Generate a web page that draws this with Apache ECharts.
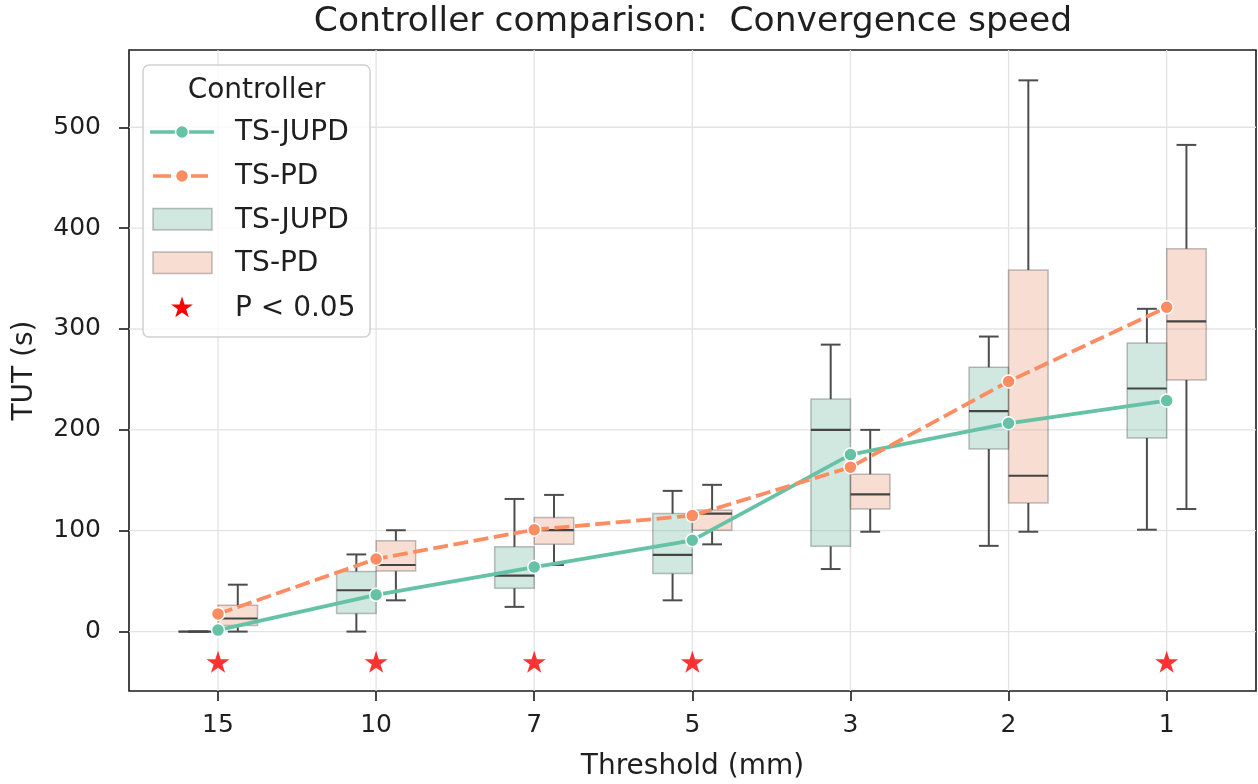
<!DOCTYPE html>
<html>
<head>
<meta charset="utf-8">
<script src="https://cdn.jsdelivr.net/npm/echarts@6/dist/echarts.min.js"></script>
<style>
html,body{margin:0;padding:0;background:#fff;}
#chart{width:1258px;height:784px;}
</style>
</head>
<body>
<div id="chart"></div>
<script>
// ---------------- data ----------------
const categories = ['15', '10', '7', '5', '3', '2', '1'];
// box stats: [lower whisker, Q1, median, Q3, upper whisker]
const jupdBox = [
  [0, 0, 0, 0, 0],
  [0, 18, 41, 59.5, 76.5],
  [24.5, 43, 55.5, 84, 131.5],
  [31, 57.5, 76, 117, 139.5],
  [62, 84.5, 200, 230.5, 284.5],
  [85, 181, 218.5, 262, 292.5],
  [101, 192, 241, 286, 320]
];
const pdBox = [
  [0, 6, 13, 26, 46.5],
  [31, 60, 66, 90, 100.5],
  [66, 86.5, 100.5, 113, 135.5],
  [86.5, 100.5, 117, 120.5, 145.5],
  [99, 121.5, 136, 156, 200],
  [99, 127.5, 154.5, 358.5, 546.5],
  [121.5, 249.5, 307.5, 379.5, 482.5]
];
const jupdMean = [1.5, 36.5, 64, 90.5, 175.5, 206.5, 229];
const pdMean = [17.5, 72, 101, 115, 163, 248, 321.5];
const significant = [1, 1, 1, 1, 0, 0, 1];
const starLevel = -30;
const yTicks = [0, 100, 200, 300, 400, 500];

// ---------------- styles ----------------
const GREEN = '#66c2a5';
const ORANGE = '#fc8d62';
const GREEN_FILL = 'rgba(113,182,161,0.32)';
const ORANGE_FILL = 'rgba(233,149,117,0.32)';
const BOX_EDGE = 'rgba(60,60,60,0.32)';
const WHISK = '#4d4d4d';
const TXT = '#1f1f1f';
const FONT = 'DejaVu Sans';
const BOX_W = 0.25;

function starPoints(cx, cy, R) {
  const r = R * 0.381966;
  const pts = [];
  for (let k = 0; k < 10; k++) {
    const rad = (k % 2 === 0) ? R : r;
    const a = -Math.PI / 2 + k * Math.PI / 5;
    pts.push([cx + rad * Math.cos(a), cy + rad * Math.sin(a)]);
  }
  return pts;
}
const starPath = 'path://' + starPoints(50, 50, 50).map((p, k) => (k ? 'L' : 'M') + p[0].toFixed(2) + ',' + p[1].toFixed(2)).join(' ') + ' Z';

function makeBoxRender(side, fill) {
  return function (params, api) {
    const i = api.value(0);
    const lo = api.value(1), q1 = api.value(2), med = api.value(3), q3 = api.value(4), hi = api.value(5);
    const x0 = side < 0 ? i - BOX_W : i;
    const x1 = x0 + BOX_W;
    const xc = x0 + BOX_W / 2;
    const tl = api.coord([x0, q3]);
    const br = api.coord([x1, q1]);
    const cx = api.coord([xc, med])[0];
    const yMed = api.coord([xc, med])[1];
    const yLo = api.coord([xc, lo])[1];
    const yHi = api.coord([xc, hi])[1];
    const capHalf = api.size([BOX_W / 4, 0])[0];
    const lineStyle = { stroke: WHISK, lineWidth: 2 };
    return {
      type: 'group',
      children: [
        { type: 'rect', shape: { x: tl[0], y: tl[1], width: br[0] - tl[0], height: br[1] - tl[1] },
          style: { fill: fill, stroke: BOX_EDGE, lineWidth: 1.5 } },
        { type: 'line', shape: { x1: cx, y1: br[1], x2: cx, y2: yLo }, style: lineStyle },
        { type: 'line', shape: { x1: cx, y1: tl[1], x2: cx, y2: yHi }, style: lineStyle },
        { type: 'line', shape: { x1: cx - capHalf, y1: yLo, x2: cx + capHalf, y2: yLo }, style: lineStyle },
        { type: 'line', shape: { x1: cx - capHalf, y1: yHi, x2: cx + capHalf, y2: yHi }, style: lineStyle },
        { type: 'line', shape: { x1: tl[0], y1: yMed, x2: br[0], y2: yMed }, style: { stroke: '#444', lineWidth: 2.2 } }
      ]
    };
  };
}

const chart = echarts.init(document.getElementById('chart'), null, { renderer: 'canvas' });

// legend (drawn as graphic)
const LX = 143, LY = 65;
const LFONT = '28px "DejaVu Sans"';
const legendGraphic = [
  { type: 'rect', shape: { x: LX, y: LY, width: 227, height: 272, r: 6 },
    style: { fill: 'rgba(255,255,255,0.8)', stroke: 'rgba(204,204,204,0.9)', lineWidth: 1.5 }, z: 100 },
  { type: 'text', x: 256.5, y: 91, style: { text: 'Controller', font: LFONT, fill: TXT, align: 'center', verticalAlign: 'middle' }, z: 101 },
  { type: 'line', shape: { x1: 150, y1: 132, x2: 214, y2: 132 }, style: { stroke: GREEN, lineWidth: 3.5 }, z: 101 },
  { type: 'circle', shape: { cx: 182, cy: 132, r: 6.5 }, style: { fill: GREEN, stroke: '#fff', lineWidth: 1.5 }, z: 102 },
  { type: 'text', x: 235, y: 133, style: { text: 'TS-JUPD', font: LFONT, fill: TXT, align: 'left', verticalAlign: 'middle' }, z: 101 },
  { type: 'line', shape: { x1: 153, y1: 176, x2: 171, y2: 176 }, style: { stroke: ORANGE, lineWidth: 3.5 }, z: 101 },
  { type: 'line', shape: { x1: 191, y1: 176, x2: 208, y2: 176 }, style: { stroke: ORANGE, lineWidth: 3.5 }, z: 101 },
  { type: 'circle', shape: { cx: 182, cy: 176, r: 6.5 }, style: { fill: ORANGE, stroke: '#fff', lineWidth: 1.5 }, z: 102 },
  { type: 'text', x: 235, y: 177, style: { text: 'TS-PD', font: LFONT, fill: TXT, align: 'left', verticalAlign: 'middle' }, z: 101 },
  { type: 'rect', shape: { x: 153, y: 208.5, width: 59, height: 21.5 }, style: { fill: GREEN_FILL, stroke: BOX_EDGE, lineWidth: 1.5 }, z: 101 },
  { type: 'text', x: 235, y: 220.5, style: { text: 'TS-JUPD', font: LFONT, fill: TXT, align: 'left', verticalAlign: 'middle' }, z: 101 },
  { type: 'rect', shape: { x: 153, y: 252, width: 59, height: 21.5 }, style: { fill: ORANGE_FILL, stroke: BOX_EDGE, lineWidth: 1.5 }, z: 101 },
  { type: 'text', x: 235, y: 264, style: { text: 'TS-PD', font: LFONT, fill: TXT, align: 'left', verticalAlign: 'middle' }, z: 101 },
  { type: 'polygon', shape: { points: starPoints(182, 308, 11.5) }, style: { fill: '#ff0000' }, z: 101 },
  { type: 'text', x: 235, y: 309, style: { text: 'P < 0.05', font: LFONT, fill: TXT, align: 'left', verticalAlign: 'middle' }, z: 101 }
];

const option = {
  animation: false,
  backgroundColor: '#fff',
  textStyle: { fontFamily: FONT },
  title: {
    text: 'Controller comparison:  Convergence speed',
    left: 688, top: 0, textAlign: 'center',
    textStyle: { fontFamily: FONT, fontSize: 34.5, fontWeight: 'normal', color: TXT }
  },
  grid: {
    left: 129, right: 2, top: 50, bottom: 93,
    outerBoundsMode: 'none', containLabel: false,
    show: true, borderColor: '#1a1a1a', borderWidth: 1.6, backgroundColor: 'transparent'
  },
  xAxis: {
    type: 'value', min: -0.563, max: 6.565,
    axisLine: { show: false, onZero: false },
    splitLine: { show: false },
    axisTick: { show: true, customValues: categories.map((c, i) => i), length: 10, lineStyle: { color: '#1a1a1a', width: 1.6 } },
    axisLabel: { customValues: categories.map((c, i) => i), formatter: v => categories[Math.round(v)], fontSize: 25, color: TXT, margin: 22, fontFamily: FONT },
    name: 'Threshold (mm)', nameLocation: 'middle', nameGap: 62,
    nameTextStyle: { fontSize: 28, color: TXT, fontFamily: FONT }
  },
  yAxis: {
    type: 'value', min: -58.9, max: 576.6,
    axisLine: { show: false, onZero: false },
    splitLine: { show: false },
    axisTick: { show: true, customValues: yTicks, length: 10, lineStyle: { color: '#1a1a1a', width: 1.6 } },
    axisLabel: { customValues: yTicks, fontSize: 25, color: TXT, margin: 28, fontFamily: FONT },
    name: 'TUT (s)', nameLocation: 'middle', nameGap: 90, nameRotate: 90,
    nameTextStyle: { fontSize: 28, color: TXT, fontFamily: FONT }
  },
  graphic: legendGraphic,
  series: [
    {
      type: 'custom', name: 'vgrid', silent: true, z: 1,
      data: categories.map((c, i) => [i, 0]),
      encode: { x: 0, y: 1 },
      renderItem: function (params, api) {
        const x = api.coord([api.value(0), 0])[0];
        const cs = params.coordSys;
        return { type: 'line', shape: { x1: x, y1: cs.y, x2: x, y2: cs.y + cs.height }, style: { stroke: '#e3e3e3', lineWidth: 1.3 } };
      }
    },
    {
      type: 'custom', name: 'hgrid', silent: true, z: 1,
      data: yTicks.map(v => [0, v]),
      encode: { x: 0, y: 1 },
      renderItem: function (params, api) {
        const y = api.coord([0, api.value(1)])[1];
        const cs = params.coordSys;
        return { type: 'line', shape: { x1: cs.x, y1: y, x2: cs.x + cs.width, y2: y }, style: { stroke: '#e3e3e3', lineWidth: 1.3 } };
      }
    },
    {
      type: 'custom', name: 'TS-JUPD box', z: 3,
      data: jupdBox.map((b, i) => [i].concat(b)),
      encode: { x: 0, y: [1, 2, 3, 4, 5] },
      renderItem: makeBoxRender(-1, GREEN_FILL)
    },
    {
      type: 'custom', name: 'TS-PD box', z: 3,
      data: pdBox.map((b, i) => [i].concat(b)),
      encode: { x: 0, y: [1, 2, 3, 4, 5] },
      renderItem: makeBoxRender(1, ORANGE_FILL)
    },
    {
      type: 'line', name: 'TS-JUPD', z: 5,
      data: jupdMean.map((v, i) => [i, v]),
      symbol: 'circle', symbolSize: 13,
      lineStyle: { color: GREEN, width: 3.8 },
      itemStyle: { color: GREEN, borderColor: '#fff', borderWidth: 1.5 }
    },
    {
      type: 'line', name: 'TS-PD', z: 5,
      data: pdMean.map((v, i) => [i, v]),
      symbol: 'circle', symbolSize: 13,
      lineStyle: { color: ORANGE, width: 3.8, type: [15, 5.5] },
      itemStyle: { color: ORANGE, borderColor: '#fff', borderWidth: 1.5 }
    },
    {
      type: 'scatter', name: 'P < 0.05', z: 6,
      data: significant.map((s, i) => s ? [i, starLevel] : null).filter(d => d),
      symbol: starPath, symbolSize: [23, 22],
      itemStyle: { color: '#ff0000' }
    }
  ]
};
chart.setOption(option);
</script>
</body>
</html>
